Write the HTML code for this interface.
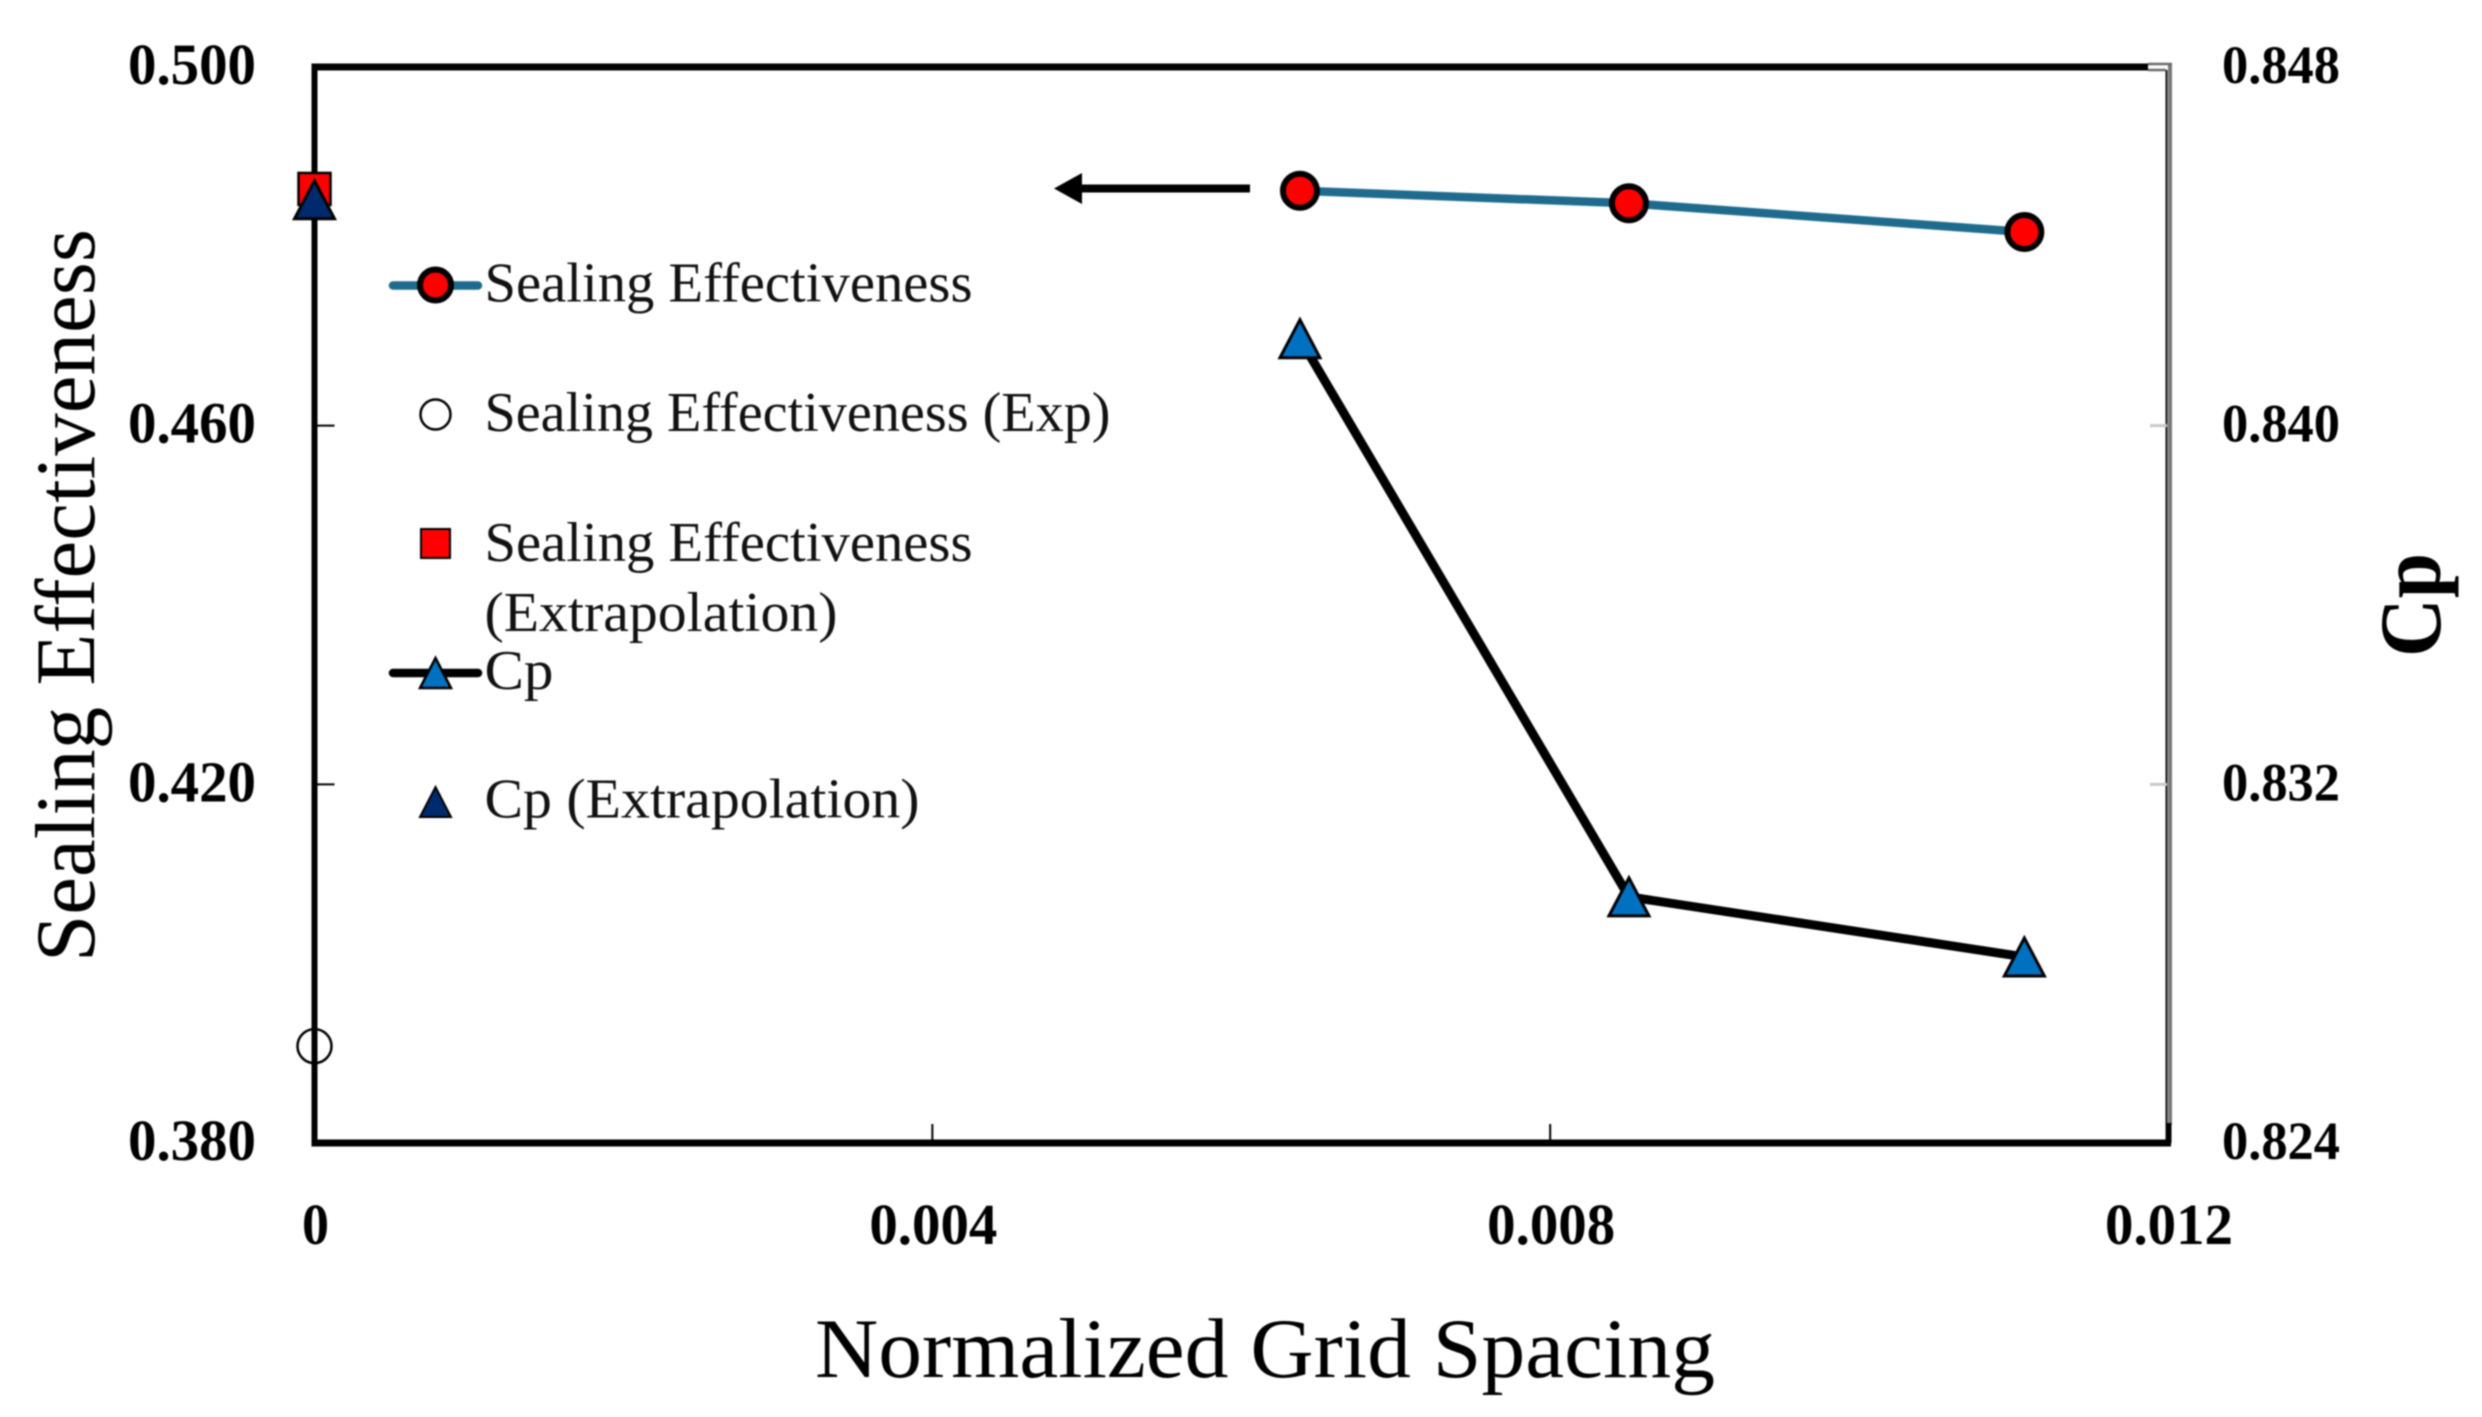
<!DOCTYPE html>
<html lang="en">
<head>
<meta charset="utf-8">
<title>Sealing Effectiveness and Cp vs Normalized Grid Spacing</title>
<style>
html,body{margin:0;padding:0;background:#fff;width:2482px;height:1417px;overflow:hidden}
svg{display:block;filter:blur(0.9px)}
text{font-family:"Liberation Serif",serif;fill:#000}
.tick{font-size:58px;font-weight:bold}
.leg{font-size:56px;fill:#111}
.title{font-size:85px}
</style>
</head>
<body>
<svg id="chart" xmlns="http://www.w3.org/2000/svg" width="2482" height="1417" viewBox="0 0 2482 1417">
  <rect x="0" y="0" width="2482" height="1417" fill="#fff"/>
  <g id="axes"></g>
  <g id="marks"></g>

  <g>
    <line x1="1250" y1="188.5" x2="1075" y2="188.5" stroke="#000" stroke-width="8"/>
    <polygon points="1054,188.5 1082,173 1082,204" fill="#000"/>
  </g>

  <g>
    <g>
      <line x1="393" y1="285.5" x2="478" y2="285.5" stroke="#1f6b8e" stroke-width="8.5" stroke-linecap="round"/>
      <circle cx="435.5" cy="285" r="15.5" fill="#ff0000" stroke="#000" stroke-width="6"/>
      <text class="leg" x="484.5" y="301.5" textLength="488" lengthAdjust="spacingAndGlyphs">Sealing Effectiveness</text>
    </g>
    <g>
      <circle cx="435.5" cy="414.5" r="15" fill="#fff" stroke="#000" stroke-width="2.5"/>
      <text class="leg" x="484.5" y="431" textLength="626" lengthAdjust="spacingAndGlyphs">Sealing Effectiveness (Exp)</text>
    </g>
    <g>
      <rect x="421" y="529" width="29" height="29" fill="#ff0000" stroke="#000" stroke-width="2"/>
      <text class="leg" x="484.5" y="561" textLength="488" lengthAdjust="spacingAndGlyphs">Sealing Effectiveness</text>
      <text class="leg" x="484.5" y="631" textLength="353" lengthAdjust="spacingAndGlyphs">(Extrapolation)</text>
    </g>
    <g>
      <line x1="393" y1="673" x2="478" y2="673" stroke="#000" stroke-width="8.5" stroke-linecap="round"/>
      <polygon points="435.5,658 451,688 420,688" fill="#0070c0" stroke="#000" stroke-width="2.5"/>
      <text class="leg" x="484.5" y="689" textLength="69" lengthAdjust="spacingAndGlyphs">Cp</text>
    </g>
    <g>
      <polygon points="435.5,787 451,817 420,817" fill="#002a6e" stroke="#000" stroke-width="2"/>
      <text class="leg" x="484.5" y="817.5" textLength="435" lengthAdjust="spacingAndGlyphs">Cp (Extrapolation)</text>
    </g>
  </g>

  <text class="title" x="815" y="1377" textLength="900" lengthAdjust="spacingAndGlyphs">Normalized Grid Spacing</text>
  <text class="title" transform="translate(94,962) rotate(-90)" x="0" y="0" textLength="733" lengthAdjust="spacingAndGlyphs">Sealing Effectiveness</text>
  <text class="title" transform="translate(2440,657) rotate(-90)" x="0" y="0" textLength="104" lengthAdjust="spacingAndGlyphs" style="font-size:88px;font-weight:bold">Cp</text>
</svg>

<script>
// Data
const xTicks = [0, 0.004, 0.008, 0.012];
const xTickLabels = ['0', '0.004', '0.008', '0.012'];
const yLeftTicks = [0.5, 0.46, 0.42, 0.38];
const yLeftLabels = ['0.500', '0.460', '0.420', '0.380'];
const yRightTicks = [0.848, 0.84, 0.832, 0.824];
const yRightLabels = ['0.848', '0.840', '0.832', '0.824'];

const gridSpacing = [0.00638, 0.00851, 0.01107];
const sealingEffectiveness = [0.4862, 0.4848, 0.4816];
const pressureCoefficient = [0.84194, 0.82949, 0.82815];
const sealingExpX = [0];
const sealingExp = [0.3908];
const sealingExtrapolationX = [0];
const sealingExtrapolation = [0.4864];
const cpExtrapolationX = [0];
const cpExtrapolation = [0.84504];

const NS = 'http://www.w3.org/2000/svg';
const plotLeft = 314.5, plotRight = 2168, plotTop = 67, plotBottom = 1143;
const xDomain = [0, 0.012], yLeftDomain = [0.38, 0.5], yRightDomain = [0.824, 0.848];

function sx(v) { return plotLeft + (v - xDomain[0]) / (xDomain[1] - xDomain[0]) * (plotRight - plotLeft); }
function syL(v) { return plotBottom - (v - yLeftDomain[0]) / (yLeftDomain[1] - yLeftDomain[0]) * (plotBottom - plotTop); }
function syR(v) { return plotBottom - (v - yRightDomain[0]) / (yRightDomain[1] - yRightDomain[0]) * (plotBottom - plotTop); }

function make(tag, attrs, parent) {
  const el = document.createElementNS(NS, tag);
  for (const k in attrs) el.setAttribute(k, attrs[k]);
  parent.appendChild(el);
  return el;
}

const axes = document.getElementById('axes');
const marks = document.getElementById('marks');

// Frame
const rightOuter = make('line', { x1: 2170, y1: plotTop - 3, x2: 2170, y2: plotBottom - 18, stroke: '#777', 'stroke-width': 4 }, axes);


const rightInner = make('line', { x1: 2166.5, y1: plotTop + 3, x2: 2166.5, y2: plotBottom, stroke: '#111', 'stroke-width': 2 }, axes);


const topLine = make('line', { x1: plotLeft - 3, y1: plotTop, x2: 2148, y2: plotTop, stroke: '#000', 'stroke-width': 7 }, axes);


const topEnd = make('path', { d: 'M2148 64H2172M2148 70H2166', stroke: '#6a6a6a', 'stroke-width': 2.5, fill: 'none' }, axes);


const leftLine = make('line', { x1: plotLeft, y1: plotTop - 3, x2: plotLeft, y2: plotBottom + 3, stroke: '#000', 'stroke-width': 6 }, axes);


const bottomLine = make('line', { x1: plotLeft - 3, y1: plotBottom, x2: 2171, y2: plotBottom, stroke: '#000', 'stroke-width': 7 }, axes);


const rightStub = make('line', { x1: 2169, y1: plotBottom - 20, x2: 2169, y2: plotBottom, stroke: '#000', 'stroke-width': 5 }, axes);



// X ticks and labels
xTicks.forEach(function (t, i) {
  if (i > 0 && i < xTicks.length - 1) {
    const tick = make('line', { x1: sx(t), y1: plotBottom - 19, x2: sx(t), y2: plotBottom, stroke: '#000', 'stroke-width': 2 }, axes);
    
    
  }
  const label = make('text', { x: sx(t) + 1, y: 1244, 'text-anchor': 'middle', class: 'tick', textLength: i === 0 ? 27 : 128, lengthAdjust: 'spacingAndGlyphs' }, axes);
  label.textContent = xTickLabels[i];
  
  
});

// Left Y ticks and labels
yLeftTicks.forEach(function (t, i) {
  if (i > 0 && i < yLeftTicks.length - 1) {
    const tick = make('line', { x1: plotLeft, y1: syL(t), x2: plotLeft + 20, y2: syL(t), stroke: '#000', 'stroke-width': 2 }, axes);
    
    
  }
  const label = make('text', { x: 256, y: syL(t) + 17, 'text-anchor': 'end', class: 'tick', textLength: 128, lengthAdjust: 'spacingAndGlyphs' }, axes);
  label.textContent = yLeftLabels[i];
  
  
});

// Right Y ticks and labels
yRightTicks.forEach(function (t, i) {
  if (i > 0 && i < yRightTicks.length - 1) {
    const tick = make('line', { x1: 2150, y1: syR(t), x2: 2167, y2: syR(t), stroke: '#c8c8c8', 'stroke-width': 3 }, axes);
    
    
  }
  const label = make('text', { x: 2340, y: syR(t) + 16, 'text-anchor': 'end', class: 'tick', style: 'font-size:54px', textLength: 118, lengthAdjust: 'spacingAndGlyphs' }, axes);
  label.textContent = yRightLabels[i];
  
  
});

function triangle(cx, cy, fill, stroke) {
  const pts = (cx) + ',' + (cy - 19) + ' ' + (cx + 20) + ',' + (cy + 19) + ' ' + (cx - 20) + ',' + (cy + 19);
  return make('polygon', { points: pts, fill: fill, stroke: '#000', 'stroke-width': stroke, 'stroke-linejoin': 'miter' }, marks);
}

// Sealing effectiveness line
const sealingPts = gridSpacing.map(function (x, i) { return sx(x) + ',' + syL(sealingEffectiveness[i]); }).join(' ');
const sealingLine = make('polyline', { points: sealingPts, fill: 'none', stroke: '#1f6b8e', 'stroke-width': 8.5 }, marks);



// Cp line
const cpPts = gridSpacing.map(function (x, i) { return sx(x) + ',' + syR(pressureCoefficient[i]); }).join(' ');
const cpLine = make('polyline', { points: cpPts, fill: 'none', stroke: '#000', 'stroke-width': 9 }, marks);



// Sealing points
gridSpacing.forEach(function (x, i) {
  const c = make('circle', { cx: sx(x), cy: syL(sealingEffectiveness[i]), r: 17, fill: '#ff0000', stroke: '#000', 'stroke-width': 6 }, marks);
  
  
});

// Cp points
gridSpacing.forEach(function (x, i) {
  const t = triangle(sx(x), syR(pressureCoefficient[i]), '#0070c0', 3);
  
  
});

// Experimental point
sealingExpX.forEach(function (x, i) {
  const c = make('circle', { cx: sx(x), cy: syL(sealingExp[i]), r: 17, fill: 'none', stroke: '#000', 'stroke-width': 2.5 }, marks);
  
  
});

// Sealing extrapolation
sealingExtrapolationX.forEach(function (x, i) {
  const s = make('rect', { x: sx(x) - 16, y: syL(sealingExtrapolation[i]) - 16, width: 32, height: 32, fill: '#ff0000', stroke: '#000', 'stroke-width': 2.5 }, marks);
  
  
});

// Cp extrapolation
cpExtrapolationX.forEach(function (x, i) {
  const t = triangle(sx(x), syR(cpExtrapolation[i]), '#002a6e', 3);
  
  
});
</script>
</body>
</html>
